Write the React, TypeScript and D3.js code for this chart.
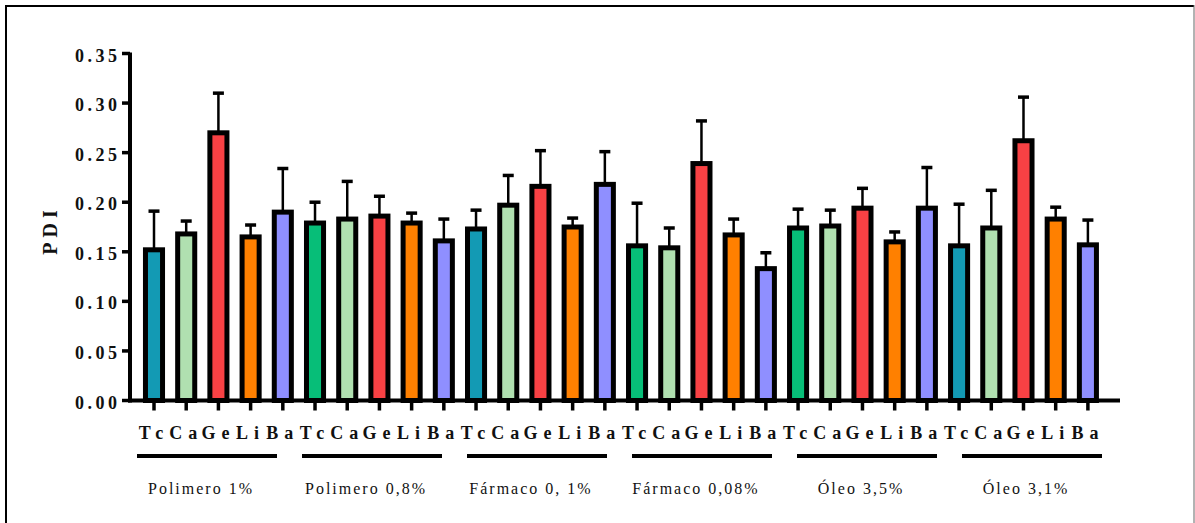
import React from 'react';
import * as d3 from 'd3';

// groups along the x axis and the five samples inside each
const groups = ['Polimero 1%', 'Polimero 0,8%', 'Fármaco 0, 1%', 'Fármaco 0,08%', 'Óleo 3,5%', 'Óleo 3,1%'];
const samples = ['Tc', 'Ca', 'Ge', 'Li', 'Ba'];

// PDI mean per group (Tc, Ca, Ge, Li, Ba)
const polimero1 = [0.152, 0.168, 0.27, 0.165, 0.19];
const polimero08 = [0.179, 0.183, 0.186, 0.179, 0.161];
const farmaco01 = [0.173, 0.197, 0.216, 0.175, 0.218];
const farmaco008 = [0.156, 0.154, 0.239, 0.167, 0.133];
const oleo35 = [0.174, 0.176, 0.194, 0.16, 0.194];
const oleo31 = [0.156, 0.174, 0.262, 0.183, 0.157];

// upper error (SD) per group
const polimero1Err = [0.039, 0.013, 0.04, 0.012, 0.044];
const polimero08Err = [0.021, 0.038, 0.02, 0.01, 0.022];
const farmaco01Err = [0.019, 0.03, 0.036, 0.009, 0.033];
const farmaco008Err = [0.043, 0.02, 0.043, 0.016, 0.016];
const oleo35Err = [0.019, 0.016, 0.02, 0.01, 0.041];
const oleo31Err = [0.042, 0.038, 0.044, 0.012, 0.025];

const yTicks = [0, 0.05, 0.1, 0.15, 0.2, 0.25, 0.3, 0.35];

const teal = '#139AB4';
const green = '#07BE78';
const lightGreen = '#B0E0B0';
const red = '#F84144';
const orange = '#FF8000';
const lavender = '#8F8FFF';
// colour of the Tc bar changes from group to group
const tcColors = [teal, green, teal, green, green, teal];

const means = [polimero1, polimero08, farmaco01, farmaco008, oleo35, oleo31];
const errors = [polimero1Err, polimero08Err, farmaco01Err, farmaco008Err, oleo35Err, oleo31Err];

const App = () => {
  const width = 1195;
  const height = 523;
  const serif = '"Liberation Serif", "Times New Roman", serif';

  const bars = groups.flatMap((g, gi) =>
    samples.map((s, si) => ({
      key: `${gi}-${si}`,
      group: gi,
      sample: s,
      value: means[gi][si],
      err: errors[gi][si],
      color: si === 0 ? tcColors[gi] : [teal, lightGreen, red, orange, lavender][si],
    }))
  );

  const axisLeft = 130;
  const axisRight = 1120;

  const x = d3.scaleBand<string>()
    .domain(bars.map(b => b.key))
    .range([137.9, 1104])
    .paddingInner(0.47)
    .paddingOuter(0.235);

  // the bracket row underneath is spaced a bit wider than the bars
  const gx = d3.scalePoint<string>()
    .domain(groups)
    .range([207, 1032]);

  const y = d3.scaleLinear()
    .domain([0, 0.35])
    .range([400.5, 53.5]);

  const bw = x.bandwidth();
  const cx = (k: string) => (x(k) as number) + bw / 2;

  return (
    <div style={{ position: 'absolute', left: 0, top: 0 }}>
      <svg width={width} height={height} style={{ display: 'block', background: '#fff' }}>
        {/* frame */}
        <line x1={6} y1={5} x2={6} y2={height} stroke="#000" strokeWidth={2} />
        <line x1={5} y1={6} x2={1194} y2={6} stroke="#000" strokeWidth={2} />
        <line x1={1194} y1={5} x2={1194} y2={height} stroke="#666" strokeWidth={1} />

        {/* bars */}
        {bars.map(b => (
          <g key={b.key}>
            <line x1={cx(b.key)} x2={cx(b.key)} y1={y(b.value)} y2={y(b.value + b.err)}
              stroke="#000" strokeWidth={2.5} />
            <line x1={cx(b.key) - 5.5} x2={cx(b.key) + 5.5} y1={y(b.value + b.err)} y2={y(b.value + b.err)}
              stroke="#000" strokeWidth={3.5} />
            <rect x={x(b.key)} y={y(b.value)} width={bw} height={y(0) - y(b.value)}
              fill={b.color} stroke="#000" strokeWidth={5} />
          </g>
        ))}

        {/* y axis */}
        <line x1={axisLeft} x2={axisLeft} y1={y(0.35) - 1} y2={y(0) + 2} stroke="#000" strokeWidth={4} />
        {yTicks.map(t => (
          <g key={t}>
            <line x1={axisLeft - 8} x2={axisLeft} y1={y(t)} y2={y(t)} stroke="#000" strokeWidth={3.5} />
            <text x={120.5} y={y(t) + 8} textAnchor="end" fontFamily={serif} fontWeight="bold"
              fontSize={18} letterSpacing={3.5} fill="#111">{d3.format('.2f')(t)}</text>
          </g>
        ))}
        <text transform={`translate(57,230) rotate(-90)`} textAnchor="middle" fontFamily={serif}
          fontWeight="bold" fontSize={20} letterSpacing={5} fill="#111">PDI</text>

        {/* x axis */}
        <line x1={axisLeft - 2} x2={axisRight} y1={y(0)} y2={y(0)} stroke="#000" strokeWidth={4} />
        {bars.map(b => (
          <g key={'t' + b.key}>
            <line x1={cx(b.key)} x2={cx(b.key)} y1={y(0)} y2={y(0) + 10} stroke="#000" strokeWidth={3.5} />
            <text x={cx(b.key)} y={439} textAnchor="middle" fontFamily={serif} fontWeight="bold"
              fontSize={18} letterSpacing={6} fill="#111">{b.sample}</text>
          </g>
        ))}

        {/* group brackets and labels */}
        {groups.map(g => {
          const mid = gx(g) as number;
          return (
            <g key={g}>
              <line x1={mid - 70} x2={mid + 70} y1={456} y2={456} stroke="#000" strokeWidth={4} />
              <text x={mid - 6} y={494} textAnchor="middle" fontFamily={serif} fontSize={16}
                letterSpacing={2} fill="#111">{g}</text>
            </g>
          );
        })}
      </svg>
    </div>
  );
};

export default App;
